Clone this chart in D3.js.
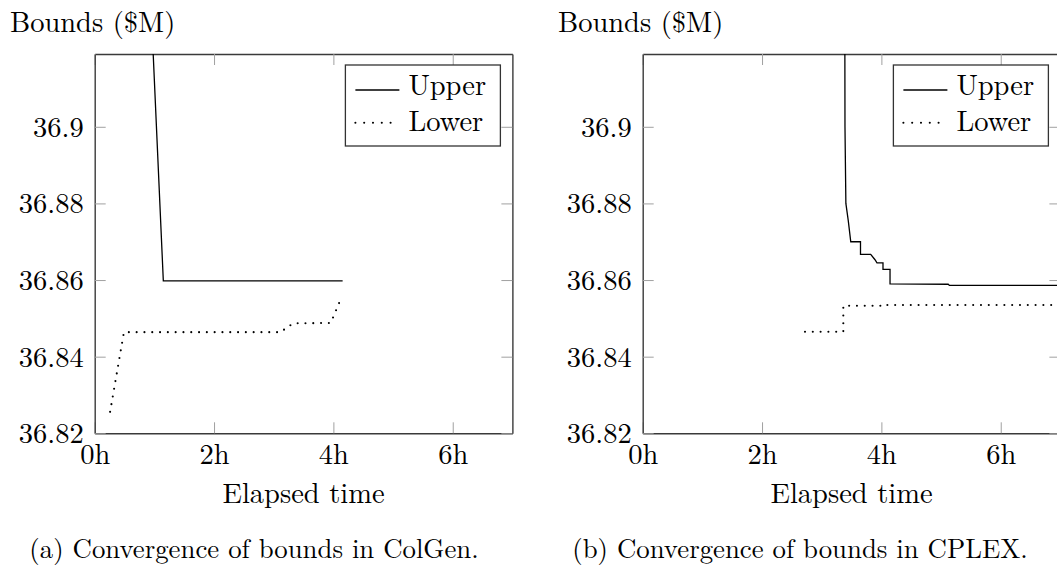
<!DOCTYPE html>
<html>
<head>
<meta charset="utf-8">
<script src="https://cdn.jsdelivr.net/npm/d3@7"></script>
<style>
  html, body { margin: 0; padding: 0; background: #fff; }
  svg { display: block; }
</style>
</head>
<body>
<script>
// ---------------- data ----------------
const xTickValues = [0, 2, 4, 6];
const xTickLabels = ["0h", "2h", "4h", "6h"];
const yTickValues = [36.82, 36.84, 36.86, 36.88, 36.9];
const yTickLabels = ["36.82", "36.84", "36.86", "36.88", "36.9"];
const seriesNames = ["Upper", "Lower"];

// (a) ColGen
const colgenUpperHours  = [0.92, 1.15, 4.155];
const colgenUpperBounds = [36.94, 36.8598, 36.8598];
const colgenLowerHours  = [0.258, 0.49, 3.117, 3.228, 3.328, 3.955, 4.145];
const colgenLowerBounds = [36.8256, 36.8464, 36.8464, 36.8477, 36.8487, 36.8488, 36.8558];

// (b) CPLEX
const cplexUpperHours  = [3.385, 3.39, 3.405, 3.445, 3.487, 3.65, 3.65, 3.821, 3.893, 3.926, 4.027, 4.027, 4.145, 4.145, 5.12, 5.14, 7.0];
const cplexUpperBounds = [36.95, 36.90, 36.880, 36.8755, 36.870, 36.870, 36.8667, 36.8667, 36.8653, 36.8645, 36.8645, 36.8628, 36.8628, 36.8590, 36.8589, 36.8586, 36.8586];
const cplexLowerHours  = [2.72, 3.362, 3.362, 4.1, 4.1, 7.0];
const cplexLowerBounds = [36.8465, 36.8465, 36.8533, 36.8533, 36.8535, 36.8535];

const captions = ["(a) Convergence of bounds in ColGen.", "(b) Convergence of bounds in CPLEX."];
const yAxisTitle = "Bounds ($M)";
const xAxisTitle = "Elapsed time";

// ---------------- layout ----------------
const W = 1057, H = 565;
const FONT = "'Latin Modern Roman', 'Liberation Serif', serif";
const FS = "28.5px";
const CAP_FS = "26.8px";
const svg = d3.select("body").append("svg").attr("width", W).attr("height", H);

const panels = [
  { left: 94.7, upperH: colgenUpperHours, upperB: colgenUpperBounds, lowerH: colgenLowerHours, lowerB: colgenLowerBounds, caption: captions[0], capX: 254 },
  { left: 642.7, upperH: cplexUpperHours, upperB: cplexUpperBounds, lowerH: cplexLowerHours, lowerB: cplexLowerBounds, caption: captions[1], capX: 800 }
];

const pxPerHour = 59.67;
const plotTop = 54, plotBottom = 433.3;
const tickLen = 11;

const setFont = sel => sel.style("font-family", FONT).style("font-size", FS).attr("fill", "#000");

panels.forEach((p, i) => {
  const right = p.left + 7 * pxPerHour;
  const x = d3.scaleLinear().domain([0, 7]).range([p.left, right]);
  const y = d3.scaleLinear().domain([36.82, 36.919]).range([plotBottom, plotTop]);
  const g = svg.append("g");

  const clipId = "clip" + i;
  svg.append("clipPath").attr("id", clipId)
    .append("rect").attr("x", p.left).attr("y", plotTop).attr("width", right - p.left).attr("height", plotBottom - plotTop);

  const styleAxis = sel => {
    sel.select(".domain").attr("stroke", "#3a3a3a").attr("stroke-width", 1.4);
    sel.selectAll(".tick line").attr("stroke", "#a0a0a0").attr("stroke-width", 1);
  };

  const xb = g.append("g").attr("transform", `translate(0,${plotBottom})`)
    .call(d3.axisBottom(x).tickValues(xTickValues).tickFormat((d, k) => xTickLabels[k])
      .tickSizeInner(-tickLen).tickSizeOuter(0).tickPadding(0));
  styleAxis(xb);
  xb.selectAll(".tick text").call(setFont).attr("y", 31).attr("dy", null);

  const xt = g.append("g").attr("transform", `translate(0,${plotTop})`)
    .call(d3.axisTop(x).tickValues(xTickValues).tickFormat("").tickSizeInner(-tickLen).tickSizeOuter(0));
  styleAxis(xt);

  const yl = g.append("g").attr("transform", `translate(${p.left},0)`)
    .call(d3.axisLeft(y).tickValues(yTickValues).tickFormat((d, k) => yTickLabels[k])
      .tickSizeInner(-tickLen).tickSizeOuter(0).tickPadding(11));
  styleAxis(yl);
  yl.selectAll(".tick text").call(setFont).attr("x", -11).attr("dy", "0.33em");

  const yr = g.append("g").attr("transform", `translate(${right},0)`)
    .call(d3.axisRight(y).tickValues(yTickValues).tickFormat("").tickSizeInner(-tickLen).tickSizeOuter(0));
  styleAxis(yr);

  const line = d3.line().x(d => x(d[0])).y(d => y(d[1]));
  const upper = p.upperH.map((h, k) => [h, p.upperB[k]]);
  const lower = p.lowerH.map((h, k) => [h, p.lowerB[k]]);
  const dg = g.append("g").attr("clip-path", `url(#${clipId})`);
  dg.append("path").datum(upper).attr("d", line).attr("fill", "none")
    .attr("stroke", "#000").attr("stroke-width", 1.3).attr("stroke-linejoin", "miter");
  dg.append("path").datum(lower).attr("d", line).attr("fill", "none")
    .attr("stroke", "#000").attr("stroke-width", 2.1).attr("stroke-linecap", "round")
    .attr("stroke-dasharray", "0 7.8");

  // legend
  const lw = 155, lh = 81;
  const lx = right - 12 - lw, ly = plotTop + 11;
  const lg = g.append("g");
  lg.append("rect").attr("x", lx).attr("y", ly).attr("width", lw).attr("height", lh)
    .attr("fill", "#fff").attr("stroke", "#333").attr("stroke-width", 1.3);
  const rows = [ly + 25, ly + 57.7];
  lg.append("line").attr("x1", lx + 10).attr("x2", lx + 54).attr("y1", rows[0]).attr("y2", rows[0])
    .attr("stroke", "#000").attr("stroke-width", 1.3);
  lg.append("line").attr("x1", lx + 10).attr("x2", lx + 54).attr("y1", rows[1]).attr("y2", rows[1])
    .attr("stroke", "#000").attr("stroke-width", 2.1).attr("stroke-linecap", "round").attr("stroke-dasharray", "0 8.8");
  seriesNames.forEach((n, k) => {
    lg.append("text").attr("x", lx + 63).attr("y", rows[k] + 5.3 + (k === 0 ? 0 : 3)).call(setFont).text(n);
  });

  // titles
  g.append("text").attr("x", p.left - 84.7).attr("y", 31.7).call(setFont).text(yAxisTitle);
  g.append("text").attr("x", (p.left + right) / 2).attr("y", 503.3).attr("text-anchor", "middle")
    .call(setFont).text(xAxisTitle);
  g.append("text").attr("x", p.capX).attr("y", 557.5).attr("text-anchor", "middle")
    .call(setFont).style("font-size", CAP_FS).text(p.caption);
});
</script>
</body>
</html>
